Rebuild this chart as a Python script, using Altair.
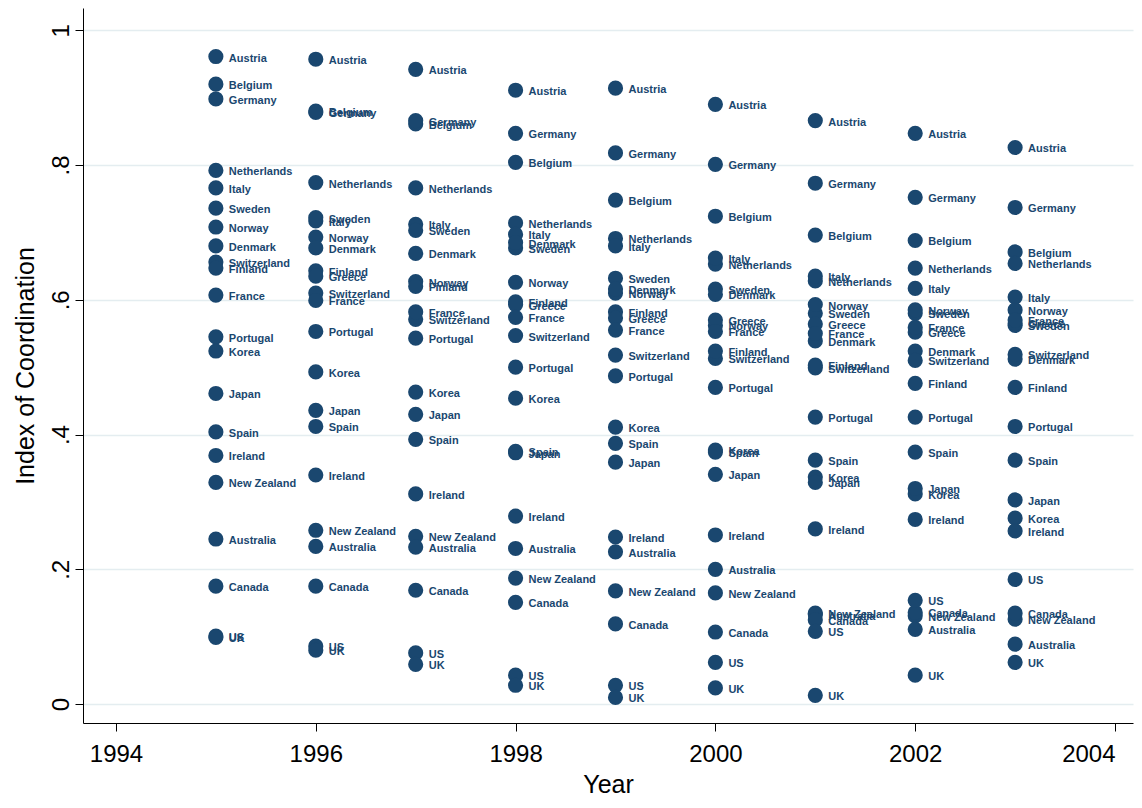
import altair as alt
import pandas as pd

countries = ["Austria", "Belgium", "Germany", "Netherlands", "Italy", "Sweden", "Norway",
             "Denmark", "Switzerland", "Finland", "Greece", "France", "Portugal", "Korea",
             "Japan", "Spain", "Ireland", "New Zealand", "Australia", "Canada", "US", "UK"]

v1995 = [0.961, 0.920, 0.898, 0.792, 0.766, 0.736, 0.708, 0.680, 0.656, 0.647, None, 0.607,
         0.545, 0.524, 0.461, 0.404, 0.369, 0.329, 0.245, 0.175, 0.101, 0.099]
v1996 = [0.957, 0.880, 0.878, 0.774, 0.717, 0.722, 0.693, 0.677, 0.610, 0.643, 0.635, 0.599,
         0.553, 0.493, 0.436, 0.412, 0.340, 0.258, 0.234, 0.175, 0.086, 0.080]
v1997 = [0.942, 0.861, 0.866, 0.766, 0.712, 0.703, 0.627, 0.669, 0.571, 0.620, None, 0.582,
         0.543, 0.463, 0.430, 0.393, 0.312, 0.249, 0.233, 0.169, 0.076, 0.059]
v1998 = [0.911, 0.804, 0.847, 0.714, 0.697, 0.677, 0.626, 0.685, 0.547, 0.597, 0.593, 0.574,
         0.500, 0.454, 0.373, 0.375, 0.279, 0.187, 0.231, 0.151, 0.043, 0.028]
v1999 = [0.914, 0.748, 0.818, 0.691, 0.680, 0.632, 0.610, 0.616, 0.518, 0.582, 0.573, 0.555,
         0.487, 0.411, 0.359, 0.387, 0.248, 0.168, 0.226, 0.119, 0.028, 0.010]
v2000 = [0.890, 0.724, 0.801, 0.653, 0.662, 0.616, 0.562, 0.608, 0.513, 0.524, 0.570, 0.553,
         0.470, 0.377, 0.341, 0.374, 0.251, 0.165, 0.200, 0.107, 0.062, 0.024]
v2001 = [0.866, 0.696, 0.773, 0.628, 0.635, 0.580, 0.593, 0.539, 0.499, 0.503, 0.564, 0.550,
         0.426, 0.337, 0.329, 0.362, 0.260, 0.135, 0.133, 0.125, 0.108, 0.013]
v2002 = [0.847, 0.688, 0.752, 0.647, 0.617, 0.580, 0.585, 0.524, 0.510, 0.476, 0.552, 0.559,
         0.426, 0.312, 0.320, 0.374, 0.274, 0.131, 0.111, 0.136, 0.154, 0.043]
v2003 = [0.826, 0.671, 0.737, 0.654, 0.604, 0.562, 0.585, 0.512, 0.519, 0.470, 0.565, 0.570,
         0.412, 0.276, 0.303, 0.362, 0.257, 0.126, 0.089, 0.135, 0.185, 0.062]

years = [1995, 1996, 1997, 1998, 1999, 2000, 2001, 2002, 2003]
series = [v1995, v1996, v1997, v1998, v1999, v2000, v2001, v2002, v2003]

x_ticks = [1994, 1996, 1998, 2000, 2002, 2004]
y_ticks = [0, 0.2, 0.4, 0.6, 0.8, 1.0]

rows = []
for yr, vals in zip(years, series):
    for c, v in zip(countries, vals):
        if v is not None:
            rows.append({"year": yr, "country": c, "coord": v})
df = pd.DataFrame(rows)

navy = "#1a476f"
FONT = "Liberation Sans"

x_enc = alt.X("year:Q", title="Year",
              scale=alt.Scale(domain=[1993.67, 2004.18], nice=False, zero=False),
              axis=alt.Axis(values=x_ticks, format="d", grid=False, labelFontSize=24,
                            titleFontSize=25, titleFontWeight="normal", labelPadding=11,
                            titlePadding=6, tickSize=8, domainColor="black",
                            tickColor="black", labelColor="black", titleColor="black",
                            labelFont=FONT, titleFont=FONT, labelFlush=20,
                            labelOverlap=False))
y_enc = alt.Y("coord:Q", title="Index of Coordination",
              scale=alt.Scale(domain=[-0.028, 1.033], nice=False, zero=False),
              axis=alt.Axis(values=y_ticks, grid=True, gridColor="#e4edf0", gridWidth=1.5,
                            labelExpr="datum.value == 0 ? '0' : datum.value == 1 ? '1' : replace(format(datum.value, '.1f'), '0.', '.')",
                            labelAngle=270, labelAlign="center", labelBaseline="bottom",
                            labelFontSize=24, titleFontSize=25, titleFontWeight="normal",
                            labelPadding=2, titlePadding=11, tickSize=8,
                            domainColor="black", tickColor="black", labelColor="black",
                            titleColor="black", labelFont=FONT, titleFont=FONT,
                            labelFlush=False))

base = alt.Chart(df).encode(x=x_enc, y=y_enc)

points = base.mark_circle(size=230, color=navy, opacity=1)
labels = base.mark_text(align="left", baseline="middle", dx=13, dy=2, fontSize=11,
                        fontWeight="bold", font=FONT, color=navy).encode(text="country:N")

chart = (points + labels).properties(
    width=1050, height=715,
    autosize=alt.AutoSizeParams(type="none"),
    padding={"left": 75, "top": 0, "right": 1, "bottom": 77},
    background="white",
).configure_view(strokeWidth=0)

chart.save("out.html", embed_options={"renderer": "svg", "actions": False})
